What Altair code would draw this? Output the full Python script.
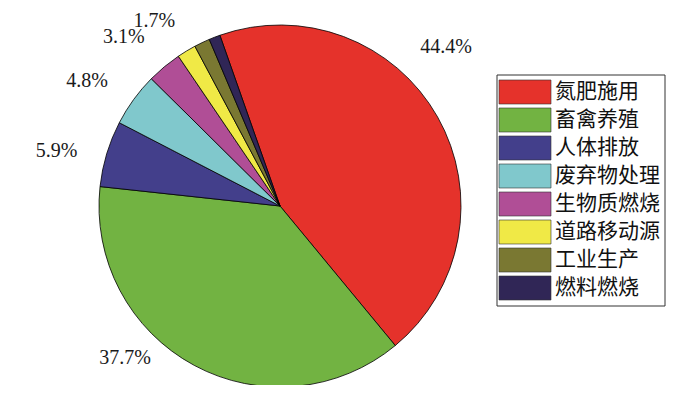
import math
import altair as alt
import pandas as pd

categories = ["氮肥施用", "畜禽养殖", "人体排放", "废弃物处理", "生物质燃烧", "道路移动源", "工业生产", "燃料燃烧"]
values = [44.4, 37.7, 5.9, 4.8, 3.1, 1.7, 1.4, 1.0]
colors = ["#E5322B", "#72B342", "#433F8B", "#80C8CC", "#B04E96", "#F0E946", "#7A7832", "#302656"]

df = pd.DataFrame({"category": categories, "value": values, "idx": list(range(len(categories)))})

CX, CY, R = 272, 198, 181
start = 2 * math.pi - 19.4 * math.pi / 180
color_scale = alt.Scale(domain=categories, range=colors)

base = alt.Chart(df)

arcs = base.mark_arc(stroke="black", strokeWidth=0.8).encode(
    theta=alt.Theta("value:Q", stack=True, scale=alt.Scale(range=[start, start + 2 * math.pi])),
    color=alt.Color("category:N", scale=color_scale, legend=None),
    order=alt.Order("idx:Q"),
    x=alt.value(CX),
    y=alt.value(CY),
    radius=alt.value(R),
)

labels = (
    base.transform_window(cum="sum(value)", sort=[alt.SortField("idx")], frame=[None, 0])
    .transform_calculate(
        nudge="(datum.category == '氮肥施用' ? -14.3 : datum.category == '畜禽养殖' ? 17.3 : -3) * PI / 180",
        rad="datum.category == '畜禽养殖' ? 217 : datum.category == '道路移动源' ? 224 : 230",
    )
    .transform_calculate(mid=f"{start} + 2 * PI * (datum.cum - datum.value / 2) / 100 + datum.nudge")
    .transform_filter("datum.value >= 1.5")
    .transform_calculate(label="format(datum.value, '.1f') + '%'")
    .mark_text(font="Liberation Serif", fontSize=20, color="#1a1a1a")
    .encode(
        theta=alt.Theta("mid:Q", scale=None),
        radius=alt.Radius("rad:Q", scale=None),
        x=alt.value(CX),
        y=alt.value(CY),
        text="label:N",
    )
)

ly = alt.Y(
    "category:N",
    scale=alt.Scale(domain=categories, range=[70, 294], paddingInner=0.143, paddingOuter=0.0714),
    axis=None,
)

swatches = base.mark_rect(stroke="#333333", strokeWidth=0.6).encode(
    y=ly,
    x=alt.value(491),
    x2=alt.value(543),
    color=alt.Color("category:N", scale=color_scale, legend=None),
)

legend_text = base.mark_text(
    align="left", baseline="middle", font="Noto Sans CJK SC", fontSize=21, color="#111111"
).encode(y=ly, x=alt.value(547), text="category:N")

border = alt.Chart(pd.DataFrame({"a": [0]})).mark_rect(
    filled=False, stroke="#333333", strokeWidth=1
).encode(x=alt.value(489), x2=alt.value(657), y=alt.value(67), y2=alt.value(298))

chart = (
    alt.layer(arcs, labels, swatches, legend_text, border)
    .resolve_scale(theta="independent", radius="independent")
    .properties(width=684, height=377, autosize=alt.AutoSizeParams(type="none"), padding=0)
    .configure_view(stroke=None)
)

chart.save("out.html", embed_options={"renderer": "svg", "actions": False})
